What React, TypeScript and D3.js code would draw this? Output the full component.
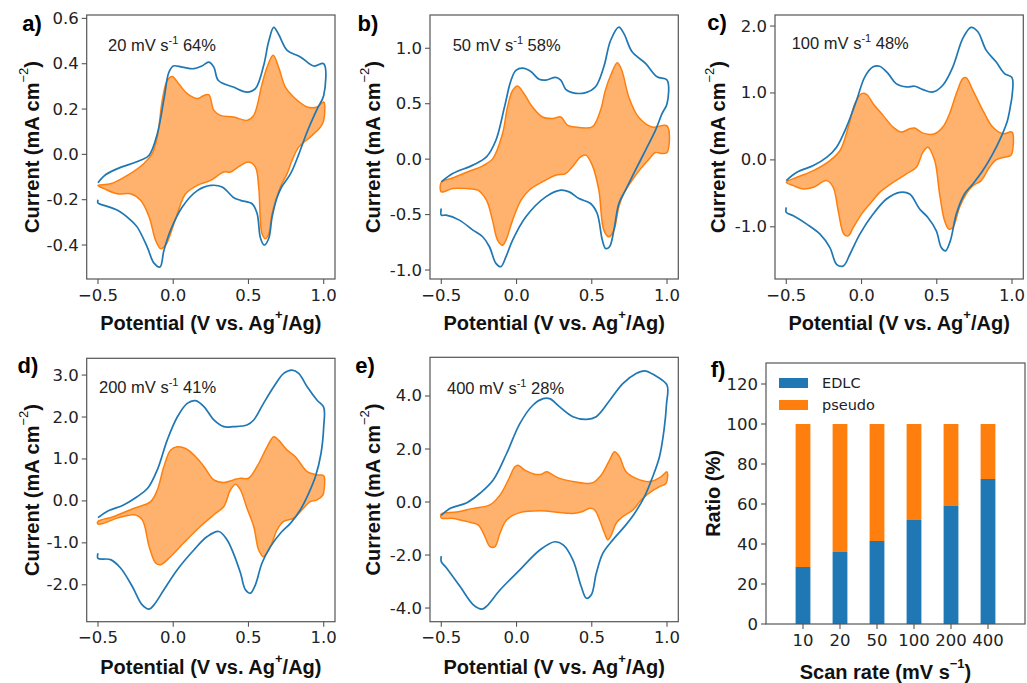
import React from "react";
import * as d3 from "d3";

type P = [number, number];

// ---------- Panel a (20 mV/s) ----------
const blueUpperA: P[] = [[-0.5,-0.125],[-0.45,-0.09],[-0.37,-0.063],[-0.217,-0.026],[-0.16,-0.004],[-0.106,0.09],[-0.06,0.25],[-0.03,0.36],[0.0,0.39],[0.06,0.385],[0.137,0.378],[0.19,0.39],[0.237,0.407],[0.27,0.385],[0.30,0.326],[0.40,0.297],[0.49,0.275],[0.546,0.29],[0.60,0.39],[0.635,0.50],[0.668,0.56],[0.70,0.53],[0.757,0.459],[0.845,0.43],[0.934,0.39],[1.0,0.40]];
const blueLowerA: P[] = [[1.0,0.26],[0.956,0.2],[0.89,0.1],[0.834,0.0],[0.78,-0.085],[0.72,-0.144],[0.69,-0.19],[0.657,-0.276],[0.635,-0.37],[0.605,-0.40],[0.58,-0.37],[0.557,-0.26],[0.524,-0.218],[0.447,-0.203],[0.40,-0.19],[0.325,-0.144],[0.25,-0.137],[0.16,-0.16],[0.06,-0.232],[-0.018,-0.335],[-0.062,-0.424],[-0.088,-0.497],[-0.128,-0.48],[-0.172,-0.41],[-0.24,-0.32],[-0.283,-0.29],[-0.37,-0.247],[-0.46,-0.225],[-0.5,-0.215],[-0.5,-0.2]];
const orangeUpperA: P[] = [[-0.5,-0.137],[-0.416,-0.13],[-0.305,-0.093],[-0.195,-0.04],[-0.14,0.003],[-0.106,0.076],[-0.073,0.238],[-0.04,0.326],[-0.007,0.344],[0.038,0.31],[0.093,0.268],[0.16,0.246],[0.204,0.26],[0.237,0.263],[0.27,0.194],[0.314,0.172],[0.40,0.165],[0.49,0.15],[0.535,0.172],[0.59,0.31],[0.624,0.385],[0.664,0.437],[0.70,0.385],[0.745,0.297],[0.80,0.253],[0.89,0.209],[0.956,0.209],[1.0,0.231]];
const orangeLowerA: P[] = [[1.0,0.15],[0.978,0.12],[0.91,0.076],[0.834,0.032],[0.79,-0.026],[0.757,-0.085],[0.712,-0.144],[0.657,-0.26],[0.635,-0.35],[0.613,-0.372],[0.59,-0.35],[0.568,-0.144],[0.546,-0.056],[0.50,-0.034],[0.447,-0.049],[0.38,-0.078],[0.336,-0.078],[0.248,-0.115],[0.16,-0.137],[0.082,-0.174],[0.027,-0.262],[-0.018,-0.35],[-0.05,-0.40],[-0.084,-0.416],[-0.117,-0.38],[-0.16,-0.276],[-0.217,-0.203],[-0.283,-0.174],[-0.372,-0.174],[-0.46,-0.151]];

// ---------- Panel b (50 mV/s) ----------
const blueUpperB: P[] = [[-0.5,-0.205],[-0.424,-0.13],[-0.29,-0.054],[-0.2,0.02],[-0.137,0.17],[-0.08,0.47],[-0.037,0.71],[-0.004,0.80],[0.04,0.82],[0.095,0.79],[0.15,0.72],[0.194,0.713],[0.26,0.737],[0.294,0.713],[0.327,0.63],[0.37,0.60],[0.46,0.60],[0.525,0.653],[0.58,0.833],[0.625,1.07],[0.68,1.19],[0.713,1.134],[0.768,0.968],[0.857,0.863],[0.934,0.743],[1.0,0.713]];
const blueLowerB: P[] = [[1.0,0.5],[0.967,0.41],[0.923,0.26],[0.857,0.08],[0.79,-0.1],[0.724,-0.28],[0.68,-0.4],[0.647,-0.64],[0.618,-0.79],[0.592,-0.806],[0.57,-0.73],[0.536,-0.49],[0.492,-0.40],[0.415,-0.355],[0.35,-0.295],[0.294,-0.28],[0.194,-0.34],[0.062,-0.52],[-0.026,-0.73],[-0.07,-0.88],[-0.104,-0.97],[-0.137,-0.94],[-0.18,-0.79],[-0.225,-0.70],[-0.29,-0.64],[-0.38,-0.55],[-0.468,-0.505],[-0.5,-0.505],[-0.5,-0.445]];
const orangeUpperB: P[] = [[-0.5,-0.21],[-0.424,-0.17],[-0.335,-0.12],[-0.225,-0.06],[-0.16,0.0],[-0.093,0.23],[-0.06,0.47],[-0.026,0.62],[0.007,0.66],[0.05,0.59],[0.106,0.47],[0.172,0.38],[0.24,0.367],[0.294,0.38],[0.338,0.307],[0.415,0.286],[0.503,0.29],[0.558,0.44],[0.59,0.62],[0.63,0.77],[0.67,0.87],[0.70,0.80],[0.746,0.56],[0.81,0.38],[0.9,0.29],[1.0,0.30]];
const orangeLowerB: P[] = [[1.0,0.06],[0.967,0.05],[0.923,0.06],[0.88,0.0],[0.823,-0.09],[0.768,-0.19],[0.713,-0.31],[0.68,-0.43],[0.647,-0.64],[0.614,-0.70],[0.58,-0.64],[0.547,-0.28],[0.503,-0.054],[0.46,0.036],[0.426,0.02],[0.37,-0.07],[0.327,-0.13],[0.26,-0.145],[0.172,-0.205],[0.084,-0.28],[0.03,-0.37],[-0.026,-0.55],[-0.07,-0.73],[-0.093,-0.776],[-0.126,-0.73],[-0.16,-0.55],[-0.2,-0.37],[-0.258,-0.28],[-0.335,-0.265],[-0.424,-0.265],[-0.5,-0.295]];

// ---------- Panel c (100 mV/s) ----------
const blueUpperC: P[] = [[-0.5,-0.31],[-0.43,-0.185],[-0.32,-0.085],[-0.23,0.04],[-0.166,0.19],[-0.1,0.49],[-0.033,0.89],[0.022,1.24],[0.077,1.39],[0.12,1.40],[0.177,1.29],[0.23,1.14],[0.3,1.09],[0.353,1.10],[0.408,1.05],[0.475,1.015],[0.54,1.115],[0.607,1.39],[0.673,1.815],[0.728,1.98],[0.773,1.915],[0.828,1.64],[0.894,1.465],[0.95,1.29],[1.0,1.23]];
const blueLowerC: P[] = [[1.0,0.95],[0.993,0.85],[0.97,0.59],[0.927,0.34],[0.872,0.09],[0.806,-0.16],[0.74,-0.36],[0.684,-0.51],[0.63,-0.81],[0.59,-1.21],[0.558,-1.36],[0.53,-1.31],[0.497,-1.06],[0.441,-0.86],[0.386,-0.735],[0.32,-0.51],[0.254,-0.485],[0.166,-0.585],[0.077,-0.81],[-0.011,-1.11],[-0.077,-1.41],[-0.121,-1.585],[-0.166,-1.56],[-0.21,-1.31],[-0.276,-1.11],[-0.364,-0.96],[-0.453,-0.835],[-0.5,-0.785],[-0.5,-0.71]];
const orangeUpperC: P[] = [[-0.5,-0.335],[-0.43,-0.26],[-0.32,-0.16],[-0.21,-0.01],[-0.143,0.14],[-0.088,0.49],[-0.044,0.84],[0.0,0.99],[0.033,0.98],[0.077,0.84],[0.143,0.665],[0.21,0.49],[0.265,0.415],[0.32,0.465],[0.353,0.475],[0.408,0.40],[0.486,0.39],[0.54,0.49],[0.585,0.69],[0.63,0.99],[0.673,1.215],[0.695,1.23],[0.74,1.04],[0.806,0.74],[0.872,0.49],[0.94,0.39],[1.0,0.415]];
const orangeLowerC: P[] = [[1.0,0.1],[0.99,0.065],[0.95,0.04],[0.894,0.0],[0.85,-0.11],[0.795,-0.31],[0.74,-0.385],[0.695,-0.51],[0.651,-0.71],[0.607,-1.01],[0.58,-1.035],[0.552,-0.91],[0.519,-0.51],[0.486,-0.01],[0.441,0.19],[0.408,0.115],[0.364,-0.11],[0.298,-0.21],[0.21,-0.335],[0.121,-0.485],[0.055,-0.66],[0.0,-0.81],[-0.055,-1.01],[-0.088,-1.135],[-0.117,-1.11],[-0.155,-0.76],[-0.188,-0.41],[-0.232,-0.31],[-0.32,-0.41],[-0.386,-0.435],[-0.453,-0.385]];

// ---------- Panel d (200 mV/s) ----------
const blueUpperD: P[] = [[-0.5,-0.4],[-0.44,-0.25],[-0.33,-0.095],[-0.24,0.1],[-0.17,0.3],[-0.106,0.74],[-0.04,1.45],[0.027,2.0],[0.093,2.325],[0.148,2.39],[0.204,2.25],[0.27,1.93],[0.336,1.77],[0.40,1.77],[0.49,1.81],[0.535,1.93],[0.60,2.325],[0.668,2.72],[0.734,3.04],[0.79,3.12],[0.834,3.04],[0.89,2.72],[0.956,2.40],[1.0,2.23]];
const blueLowerD: P[] = [[1.0,1.77],[0.982,1.13],[0.945,0.58],[0.90,0.18],[0.845,-0.21],[0.78,-0.53],[0.712,-0.77],[0.646,-1.09],[0.59,-1.48],[0.546,-2.0],[0.513,-2.2],[0.48,-2.12],[0.447,-1.72],[0.40,-1.25],[0.358,-0.93],[0.303,-0.73],[0.226,-0.85],[0.137,-1.17],[0.027,-1.64],[-0.062,-2.12],[-0.128,-2.48],[-0.16,-2.58],[-0.206,-2.48],[-0.272,-2.04],[-0.35,-1.6],[-0.416,-1.4],[-0.5,-1.37],[-0.5,-1.25]];
const orangeUpperD: P[] = [[-0.5,-0.49],[-0.394,-0.37],[-0.26,-0.175],[-0.15,-0.016],[-0.106,0.26],[-0.062,0.82],[-0.018,1.21],[0.027,1.29],[0.082,1.25],[0.148,1.06],[0.204,0.82],[0.27,0.5],[0.336,0.44],[0.40,0.5],[0.447,0.54],[0.50,0.54],[0.557,0.82],[0.624,1.29],[0.668,1.53],[0.70,1.45],[0.757,1.21],[0.81,1.06],[0.89,0.70],[0.956,0.62],[1.0,0.60]];
const orangeLowerD: P[] = [[1.0,0.2],[0.995,0.14],[0.956,0.024],[0.91,-0.016],[0.856,-0.21],[0.80,-0.41],[0.734,-0.49],[0.69,-0.69],[0.646,-1.09],[0.60,-1.33],[0.568,-1.17],[0.535,-0.61],[0.49,-0.175],[0.447,0.26],[0.414,0.40],[0.38,0.26],[0.336,-0.135],[0.27,-0.33],[0.18,-0.61],[0.07,-1.0],[-0.018,-1.33],[-0.084,-1.52],[-0.117,-1.48],[-0.16,-1.09],[-0.206,-0.45],[-0.26,-0.33],[-0.372,-0.41],[-0.46,-0.53],[-0.5,-0.55]];

// ---------- Panel e (400 mV/s) ----------
const blueUpperE: P[] = [[-0.5,-0.5],[-0.44,-0.24],[-0.33,-0.025],[-0.243,0.33],[-0.155,0.83],[-0.066,1.83],[0.022,2.96],[0.11,3.66],[0.177,3.9],[0.22,3.9],[0.287,3.59],[0.375,3.22],[0.464,3.12],[0.53,3.22],[0.62,3.84],[0.706,4.47],[0.795,4.85],[0.85,4.95],[0.916,4.79],[1.0,4.41]];
const blueLowerE: P[] = [[0.997,3.72],[0.98,2.71],[0.95,1.71],[0.905,0.955],[0.85,0.2],[0.784,-0.43],[0.717,-0.93],[0.64,-1.43],[0.574,-1.93],[0.53,-2.69],[0.497,-3.5],[0.464,-3.63],[0.43,-3.19],[0.375,-2.19],[0.31,-1.62],[0.254,-1.5],[0.155,-1.81],[0.022,-2.56],[-0.11,-3.32],[-0.2,-3.94],[-0.23,-4.04],[-0.287,-3.88],[-0.375,-3.19],[-0.464,-2.5],[-0.5,-2.25],[-0.5,-2.04]];
const orangeUpperE: P[] = [[-0.5,-0.45],[-0.4,-0.38],[-0.287,-0.24],[-0.177,-0.11],[-0.11,0.26],[-0.055,0.83],[-0.011,1.33],[0.011,1.39],[0.055,1.2],[0.12,1.05],[0.166,1.05],[0.2,1.14],[0.232,1.05],[0.287,0.89],[0.375,0.77],[0.464,0.70],[0.508,0.73],[0.563,1.02],[0.618,1.58],[0.651,1.9],[0.684,1.71],[0.728,1.14],[0.795,0.89],[0.883,0.77],[0.96,0.955],[1.0,1.14]];
const orangeLowerE: P[] = [[0.993,0.70],[0.95,0.58],[0.894,0.39],[0.828,0.075],[0.773,-0.3],[0.706,-0.55],[0.662,-0.8],[0.63,-1.24],[0.607,-1.43],[0.585,-1.18],[0.552,-0.68],[0.519,-0.3],[0.486,-0.24],[0.44,-0.36],[0.375,-0.43],[0.287,-0.4],[0.155,-0.33],[0.022,-0.4],[-0.066,-0.68],[-0.11,-1.18],[-0.143,-1.68],[-0.177,-1.68],[-0.21,-1.31],[-0.254,-0.87],[-0.33,-0.74],[-0.42,-0.62],[-0.5,-0.6]];

// ---------- Panel f ----------
const scanRates = ["10", "20", "50", "100", "200", "400"];
const edlcRatio = [28.5, 36, 41.5, 52, 59, 72.5];
const pseudoRatio = [71.5, 64, 58.5, 48, 41, 27.5];
const ratioTicks = [0, 20, 40, 60, 80, 100, 120];
const legendLabels = ["EDLC", "pseudo"];

// ---------- Ticks / labels ----------
const potentialTicks = [-0.5, 0, 0.5, 1.0];
const yTicksA = [-0.4, -0.2, 0, 0.2, 0.4, 0.6];
const yTicksB = [-1.0, -0.5, 0, 0.5, 1.0];
const yTicksC = [-1.0, 0, 1.0, 2.0];
const yTicksD = [-2, -1, 0, 1, 2, 3];
const yTicksE = [-4, -2, 0, 2, 4];
const panelRates = ["20", "50", "100", "200", "400"];
const panelPseudo = ["64%", "58%", "48%", "41%", "28%"];
const panelLetters = ["a)", "b)", "c)", "d)", "e)", "f)"];

const BLUE = "#1f77b4";
const ORANGE = "#ff7f0e";
const SPINE = "#555";
const TXT = "#222";
const TICKFONT = "'DejaVu Sans', sans-serif";
const LABFONT = "'Liberation Sans', Arial, sans-serif";

type Box = { x: number; y: number; w: number; h: number };

function fmtY(v: number) {
  return v.toFixed(1);
}
function fmtX(v: number) {
  return (v < 0 ? "\u2212" : "") + Math.abs(v).toFixed(1);
}

function CVPanel(props: {
  box: Box;
  yDomain: [number, number];
  yTicks: number[];
  bu: P[];
  bl: P[];
  ou: P[];
  ol: P[];
  letter: string;
  letterPos: [number, number];
  rate: string;
  pct: string;
  notePos: [number, number];
  yLabelX: number;
  xLabelY: number;
}) {
  const { box, yDomain, yTicks, bu, bl, ou, ol } = props;
  const x = d3.scaleLinear().domain([-0.575, 1.075]).range([box.x, box.x + box.w]);
  const y = d3.scaleLinear().domain(yDomain).range([box.y + box.h, box.y]);
  const line = d3
    .line<P>()
    .x((d) => x(d[0]))
    .y((d) => y(d[1]))
    .curve(d3.curveCatmullRom.alpha(0.5));
  const closed = d3
    .line<P>()
    .x((d) => x(d[0]))
    .y((d) => y(d[1]))
    .curve(d3.curveCatmullRomClosed.alpha(0.5));
  const bottom = box.y + box.h;
  const cy = box.y + box.h / 2;
  const cx = box.x + box.w / 2;
  return (
    <g>
      <path d={closed([...ou, ...ol]) || ""} fill={ORANGE} fillOpacity={0.6} stroke={ORANGE} strokeWidth={1.5} />
      <path d={line([...bu, ...bl]) || ""} fill="none" stroke={BLUE} strokeWidth={1.7} />
      <rect x={box.x} y={box.y} width={box.w} height={box.h} fill="none" stroke={SPINE} strokeWidth={1.2} />
      {yTicks.map((t) => (
        <g key={"y" + t}>
          <line x1={box.x - 5} x2={box.x} y1={y(t)} y2={y(t)} stroke={SPINE} strokeWidth={1.1} />
          <text x={box.x - 8} y={y(t)} textAnchor="end" dominantBaseline="central" fontFamily={TICKFONT} fontSize={16.5} fill={TXT}>
            {fmtY(t)}
          </text>
        </g>
      ))}
      {potentialTicks.map((t) => (
        <g key={"x" + t}>
          <line x1={x(t)} x2={x(t)} y1={bottom} y2={bottom + 5} stroke={SPINE} strokeWidth={1.1} />
          <text x={x(t)} y={bottom + 16} textAnchor="middle" dominantBaseline="central" fontFamily={TICKFONT} fontSize={16.5} fill={TXT}>
            {fmtX(t)}
          </text>
        </g>
      ))}
      <text x={props.notePos[0]} y={props.notePos[1]} fontFamily={LABFONT} fontSize={16.5} fill={TXT}>
        {props.rate} mV s
        <tspan fontSize={11} dy={-7}>-1</tspan>
        <tspan dy={7}> {props.pct}</tspan>
      </text>
      <text x={props.letterPos[0]} y={props.letterPos[1]} textAnchor="middle" fontFamily={LABFONT} fontWeight="bold" fontSize={22} fill="#000">
        {props.letter}
      </text>
      <text
        transform={`translate(${props.yLabelX},${cy}) rotate(-90)`}
        textAnchor="middle"
        fontFamily={LABFONT}
        fontWeight="bold"
        fontSize={20}
        fill="#111"
      >
        Current (mA cm
        <tspan fontSize={13} fontWeight="normal" dy={-11}>{"\u22122"}</tspan>
        <tspan dy={11}>)</tspan>
      </text>
      <text x={cx} y={props.xLabelY} textAnchor="middle" fontFamily={LABFONT} fontWeight="bold" fontSize={20} fill="#111">
        Potential (V vs. Ag
        <tspan fontSize={13} dy={-11}>+</tspan>
        <tspan dy={11}>/Ag)</tspan>
      </text>
    </g>
  );
}

function BarPanel() {
  const box: Box = { x: 766, y: 363, w: 259, h: 261 };
  const x = d3.scaleLinear().domain([-1, 6]).range([box.x, box.x + box.w]);
  const y = d3.scaleLinear().domain([0, 130.5]).range([box.y + box.h, box.y]);
  const bw = x(0.4) - x(0);
  const bottom = box.y + box.h;
  return (
    <g>
      {scanRates.map((r, i) => (
        <g key={r}>
          <rect x={x(i) - bw / 2} y={y(edlcRatio[i])} width={bw} height={y(0) - y(edlcRatio[i])} fill={BLUE} />
          <rect
            x={x(i) - bw / 2}
            y={y(edlcRatio[i] + pseudoRatio[i])}
            width={bw}
            height={y(edlcRatio[i]) - y(edlcRatio[i] + pseudoRatio[i])}
            fill={ORANGE}
          />
        </g>
      ))}
      <rect x={box.x} y={box.y} width={box.w} height={box.h} fill="none" stroke={SPINE} strokeWidth={1.2} />
      {ratioTicks.map((t) => (
        <g key={"t" + t}>
          <line x1={box.x - 5} x2={box.x} y1={y(t)} y2={y(t)} stroke={SPINE} strokeWidth={1.1} />
          <text x={box.x - 8} y={y(t)} textAnchor="end" dominantBaseline="central" fontFamily={TICKFONT} fontSize={16.5} fill={TXT}>
            {t}
          </text>
        </g>
      ))}
      {scanRates.map((r, i) => (
        <g key={"c" + r}>
          <line x1={x(i)} x2={x(i)} y1={bottom} y2={bottom + 5} stroke={SPINE} strokeWidth={1.1} />
          <text x={x(i)} y={bottom + 16} textAnchor="middle" dominantBaseline="central" fontFamily={TICKFONT} fontSize={16.5} fill={TXT}>
            {r}
          </text>
        </g>
      ))}
      {legendLabels.map((l, i) => (
        <g key={l}>
          <rect x={779} y={378 + i * 22} width={29} height={10} fill={i === 0 ? BLUE : ORANGE} />
          <text x={822} y={383 + i * 22} dominantBaseline="central" fontFamily={TICKFONT} fontSize={14.5} fill={TXT}>
            {l}
          </text>
        </g>
      ))}
      <text x={718} y={377} textAnchor="middle" fontFamily={LABFONT} fontWeight="bold" fontSize={22} fill="#000">
        {panelLetters[5]}
      </text>
      <text
        transform={`translate(720,${box.y + box.h / 2}) rotate(-90)`}
        textAnchor="middle"
        fontFamily={LABFONT}
        fontWeight="bold"
        fontSize={20}
        fill="#111"
      >
        Ratio (%)
      </text>
      <text x={box.x + box.w / 2 - 10} y={679} textAnchor="middle" fontFamily={LABFONT} fontWeight="bold" fontSize={20} fill="#111">
        Scan rate (mV s
        <tspan fontSize={13} dy={-11}>{"\u22121"}</tspan>
        <tspan dy={11}>)</tspan>
      </text>
    </g>
  );
}

export default function App() {
  const W = 248.3;
  const H = 264;
  return (
    <svg width={1027} height={683} style={{ position: "absolute", left: 0, top: 0, background: "#fff" }}>
      <rect x={0} y={0} width={1027} height={683} fill="#fff" />
      <CVPanel
        box={{ x: 86.7, y: 15, w: W, h: H }}
        yDomain={[-0.55, 0.615]}
        yTicks={yTicksA}
        bu={blueUpperA}
        bl={blueLowerA}
        ou={orangeUpperA}
        ol={orangeLowerA}
        letter={panelLetters[0]}
        letterPos={[32, 31]}
        rate={panelRates[0]}
        pct={panelPseudo[0]}
        notePos={[108, 51]}
        yLabelX={39}
        xLabelY={330}
      />
      <CVPanel
        box={{ x: 430, y: 15, w: W, h: H }}
        yDomain={[-1.081, 1.3]}
        yTicks={yTicksB}
        bu={blueUpperB}
        bl={blueLowerB}
        ou={orangeUpperB}
        ol={orangeLowerB}
        letter={panelLetters[1]}
        letterPos={[368, 31]}
        rate={panelRates[1]}
        pct={panelPseudo[1]}
        notePos={[452.7, 51]}
        yLabelX={380}
        xLabelY={330}
      />
      <CVPanel
        box={{ x: 775, y: 15, w: W, h: H }}
        yDomain={[-1.78, 2.165]}
        yTicks={yTicksC}
        bu={blueUpperC}
        bl={blueLowerC}
        ou={orangeUpperC}
        ol={orangeLowerC}
        letter={panelLetters[2]}
        letterPos={[717, 30]}
        rate={panelRates[2]}
        pct={panelPseudo[2]}
        notePos={[791.7, 49]}
        yLabelX={725}
        xLabelY={330}
      />
      <CVPanel
        box={{ x: 86.7, y: 358.3, w: W, h: H - 0.6 }}
        yDomain={[-2.88, 3.4]}
        yTicks={yTicksD}
        bu={blueUpperD}
        bl={blueLowerD}
        ou={orangeUpperD}
        ol={orangeLowerD}
        letter={panelLetters[3]}
        letterPos={[28, 373]}
        rate={panelRates[3]}
        pct={panelPseudo[3]}
        notePos={[99, 393]}
        yLabelX={39}
        xLabelY={674}
      />
      <CVPanel
        box={{ x: 430, y: 357.3, w: W, h: H + 0.4 }}
        yDomain={[-4.516, 5.46]}
        yTicks={yTicksE}
        bu={blueUpperE}
        bl={blueLowerE}
        ou={orangeUpperE}
        ol={orangeLowerE}
        letter={panelLetters[4]}
        letterPos={[365, 373]}
        rate={panelRates[4]}
        pct={panelPseudo[4]}
        notePos={[447, 394]}
        yLabelX={380}
        xLabelY={674}
      />
      <BarPanel />
    </svg>
  );
}
